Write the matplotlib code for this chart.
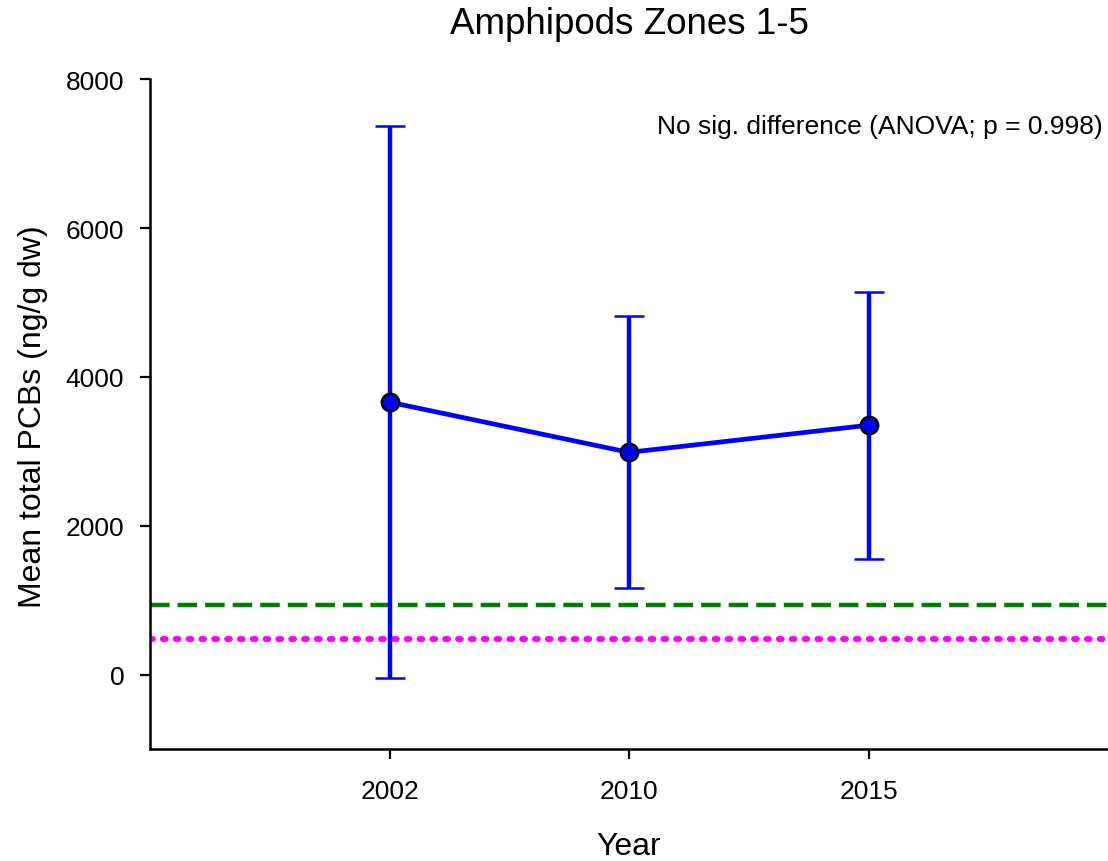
import matplotlib
matplotlib.use("Agg")
import matplotlib.pyplot as plt

plt.rcParams["font.family"] = ["Liberation Sans", "DejaVu Sans"]

# ---- Data ----
years = ["2002", "2010", "2015"]
means = [3660, 2985, 3350]
upper = [7370, 4820, 5140]
lower = [-50, 1165, 1555]
green_ref = 940
magenta_ref = 480

x = [1, 2, 3]
err_lo = [m - l for m, l in zip(means, lower)]
err_hi = [u - m for m, u in zip(means, upper)]

fig = plt.figure(figsize=(11.08, 8.62), dpi=100)
ax = fig.add_axes([0.1354, 0.130, 0.8646, 0.777])

ax.axhline(green_ref, color="#008000", lw=3.2, ls=(0, (4.4, 1.8)), zorder=1)
ax.axhline(magenta_ref, color="#ff00ff", lw=4.2, ls=(0, (0.5, 1.7)),
           dash_capstyle="round", zorder=1)

ax.errorbar(x, means, yerr=[err_lo, err_hi], color="#0000ff", lw=3.4,
            elinewidth=3.2, capsize=11, capthick=3.2, marker="o", ms=12.5,
            mfc="#0000ff", mec="black", mew=1.8, zorder=3)

ax.set_xlim(0, 4)
ax.set_ylim(-1000, 8000)
ax.set_xticks(x)
ax.set_xticklabels(years)
ax.set_yticks([0, 2000, 4000, 6000, 8000])

for s in ["top", "right"]:
    ax.spines[s].set_visible(False)
for s in ["left", "bottom"]:
    ax.spines[s].set_linewidth(1.8)
ax.tick_params(direction="out", length=7.5, width=1.6, labelsize=19)
ax.tick_params(axis="y", pad=11)
ax.tick_params(axis="x", pad=14)

ax.set_xlabel("Year", fontsize=23)
ax.xaxis.set_label_coords(0.5, -0.122)
ax.set_ylabel("Mean total PCBs (ng/g dw)", fontsize=23)
ax.yaxis.set_label_coords(-0.107, 0.497)
ax.set_title("Amphipods Zones 1-5", fontsize=26.5, pad=33)

ax.text(0.995, 0.93, "No sig. difference (ANOVA; p = 0.998)",
        transform=ax.transAxes, ha="right", va="center", fontsize=19)

fig.savefig("out.png", dpi=100)
